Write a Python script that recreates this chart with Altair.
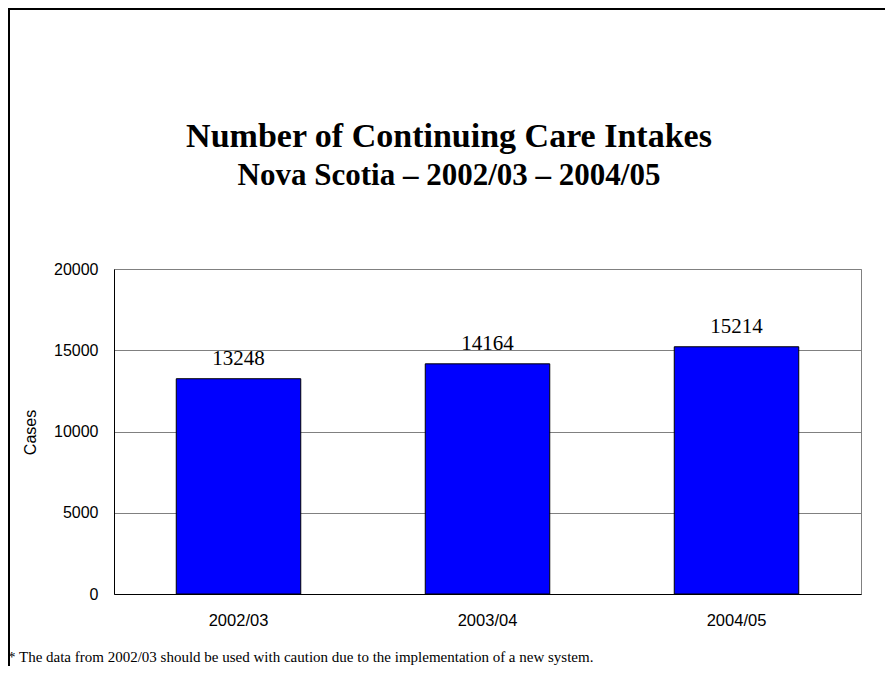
import altair as alt
import pandas as pd

years = ["2002/03", "2003/04", "2004/05"]
cases = [13248, 14164, 15214]
y_ticks = [0, 5000, 10000, 15000, 20000]

title_text = "Number of Continuing Care Intakes"
subtitle_text = "Nova Scotia \u2013 2002/03 \u2013 2004/05"
footnote_text = "* The data from 2002/03 should be used with caution due to the implementation of a new system."

df = pd.DataFrame({"year": years, "cases": cases})

W, H = 747, 325

x_enc = alt.X("year:N", sort=years,
              scale=alt.Scale(paddingInner=0.5, paddingOuter=0.25),
              axis=alt.Axis(title=None, labelAngle=0, labelFont="Liberation Sans",
                            labelFontSize=16.5, labelColor="black", labelPadding=18,
                            ticks=False, domainColor="black", domainWidth=1, grid=False))
y_enc = alt.Y("cases:Q", scale=alt.Scale(domain=[0, 20000], nice=False),
              axis=alt.Axis(title="Cases", values=y_ticks, format="d",
                            labelFont="Liberation Sans", labelFontSize=16,
                            labelColor="black", labelPadding=16, ticks=False,
                            domainColor="black", grid=True, gridColor="#808080",
                            gridWidth=1, titleFont="Liberation Sans",
                            titleFontSize=16, titleFontWeight="normal",
                            titleColor="black", titleX=-84, titleY=163,
                            titleBaseline="middle"))

bars = alt.Chart(df).mark_bar(color="#0000FF", stroke="black", strokeWidth=1).encode(
    x=x_enc, y=y_enc)

labels = alt.Chart(df).mark_text(font="Liberation Serif", fontSize=21, color="black",
                                 baseline="middle", dy=-20).encode(
    x=alt.X("year:N", sort=years), y="cases:Q", text="cases:Q")

one = alt.Data(values=[{"k": 1}])

title = alt.Chart(one).mark_text(font="Liberation Serif", fontSize=34, fontWeight="bold",
                                 color="black", align="center", baseline="middle").encode(
    x=alt.value(335), y=alt.value(-132), text=alt.value(title_text))
subtitle = alt.Chart(one).mark_text(font="Liberation Serif", fontSize=31, fontWeight="bold",
                                    color="black", align="center", baseline="middle").encode(
    x=alt.value(335), y=alt.value(-93), text=alt.value(subtitle_text))
footnote = alt.Chart(one).mark_text(font="Liberation Serif", fontSize=15, color="black",
                                    align="left", baseline="middle").encode(
    x=alt.value(-106), y=alt.value(388), text=alt.value(footnote_text))

frame_left = alt.Chart(one).mark_rule(color="black", strokeWidth=2).encode(
    x=alt.value(-105), y=alt.value(-260), y2=alt.value(400))
frame_top = alt.Chart(one).mark_rule(color="black", strokeWidth=2).encode(
    x=alt.value(-106), x2=alt.value(W + 30), y=alt.value(-260))

chart = alt.layer(bars, labels, title, subtitle, footnote, frame_left, frame_top).properties(
    width=W, height=H,
    autosize=alt.AutoSizeParams(type="none"),
    padding={"left": 106, "top": 261, "right": 24, "bottom": 72},
    background="white",
).configure_view(stroke="#808080", strokeWidth=1)

chart.save("out.html", embed_options={"renderer": "svg", "actions": False})
